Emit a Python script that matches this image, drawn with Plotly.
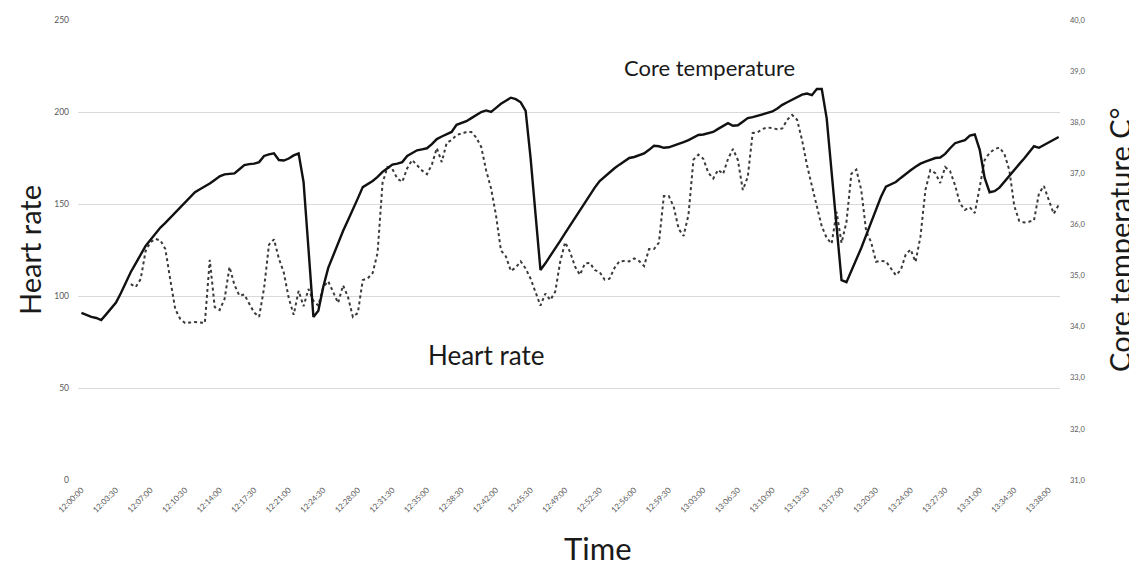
import pandas as pd
import plotly.graph_objects as go

# Time axis: readings every 30 s from 12:00:00
start_time = "2020-01-01 12:00:00"
n_points = 199
times = pd.date_range(start=start_time, periods=n_points, freq="30s")

# Core temperature (°C), solid line, right axis
core_temp = [
    34.27, 34.23, 34.19, 34.17, 34.13, 34.24, 34.35, 34.47, 34.66, 34.88,
    35.07, 35.24, 35.41, 35.58, 35.70, 35.83, 35.94, 36.03, 36.13, 36.23,
    36.33, 36.43, 36.53, 36.63, 36.69, 36.74, 36.80, 36.87, 36.94, 36.98,
    36.99, 37.00, 37.08, 37.16, 37.18, 37.19, 37.22, 37.34, 37.37, 37.39,
    37.26, 37.25, 37.29, 37.35, 37.39, 36.83, 35.52, 34.19, 34.31, 34.78,
    35.15, 35.39, 35.64, 35.87, 36.08, 36.28, 36.51, 36.73, 36.79, 36.85,
    36.93, 37.03, 37.10, 37.17, 37.19, 37.22, 37.34, 37.40, 37.45, 37.47,
    37.49, 37.57, 37.67, 37.72, 37.77, 37.81, 37.95, 37.99, 38.02, 38.08,
    38.14, 38.20, 38.23, 38.20, 38.28, 38.36, 38.42, 38.48, 38.45, 38.39,
    38.22, 37.30, 36.20, 35.11, 35.24, 35.38, 35.53, 35.68, 35.83, 35.98,
    36.13, 36.28, 36.43, 36.58, 36.72, 36.85, 36.94, 37.03, 37.10, 37.17,
    37.23, 37.30, 37.32, 37.35, 37.39, 37.46, 37.54, 37.53, 37.50, 37.51,
    37.54, 37.57, 37.61, 37.65, 37.70, 37.75, 37.76, 37.78, 37.81, 37.87,
    37.93, 37.98, 37.93, 37.94, 38.01, 38.08, 38.10, 38.13, 38.15, 38.18,
    38.21, 38.27, 38.34, 38.39, 38.44, 38.49, 38.54, 38.56, 38.53, 38.65,
    38.65, 38.07, 37.03, 35.97, 34.91, 34.87, 35.09, 35.31, 35.54, 35.79,
    36.05, 36.30, 36.54, 36.74, 36.78, 36.83, 36.91, 36.99, 37.06, 37.13,
    37.19, 37.23, 37.26, 37.30, 37.31, 37.38, 37.49, 37.59, 37.62, 37.65,
    37.74, 37.76, 37.46, 36.91, 36.63, 36.65, 36.72, 36.84, 36.96, 37.07,
    37.18, 37.29, 37.41, 37.53, 37.50, 37.55, 37.60, 37.66, 37.71,
]

# Heart rate (bpm), dotted line, left axis (no readings for the first 5 min)
heart_rate = [
    None, None, None, None, None, None, None, None, None, None,
    106.5, 104.9, 109.2, 124.5, 129.3, 131.0, 130.2, 125.5, 108.9, 92.9,
    87.6, 85.3, 85.6, 85.9, 85.6, 85.3, 119.6, 94.0, 92.4, 98.4,
    115.8, 106.0, 100.2, 100.8, 95.8, 91.0, 88.7, 104.3, 127.9, 130.8,
    120.4, 112.7, 98.9, 89.8, 102.8, 94.4, 103.8, 97.4, 94.8, 104.9,
    108.0, 101.6, 96.2, 105.8, 99.5, 88.6, 90.8, 108.7, 109.6, 112.5,
    123.4, 161.4, 170.1, 169.0, 163.8, 162.0, 169.4, 173.9, 170.8, 168.2,
    166.2, 171.4, 180.4, 172.8, 183.2, 184.8, 187.5, 188.5, 189.1, 189.1,
    186.1, 181.0, 168.2, 158.4, 143.7, 124.7, 121.5, 113.6, 115.5, 118.8,
    114.9, 109.4, 101.8, 94.8, 101.3, 97.8, 102.4, 118.6, 129.2, 123.9,
    116.0, 111.5, 117.7, 118.0, 114.1, 113.0, 108.9, 109.4, 115.2, 118.9,
    119.0, 118.8, 120.4, 119.0, 116.3, 125.5, 125.5, 129.0, 154.3, 154.3,
    148.5, 136.5, 132.6, 144.3, 174.1, 176.8, 174.6, 167.0, 163.8, 168.6,
    166.3, 174.5, 179.9, 173.9, 157.6, 164.7, 188.6, 189.0, 190.8, 191.6,
    191.2, 190.6, 191.1, 195.8, 198.4, 195.8, 184.8, 171.2, 159.8, 148.9,
    137.8, 131.5, 128.4, 145.7, 128.8, 140.2, 166.5, 168.7, 157.6, 135.1,
    129.3, 118.6, 119.1, 118.8, 114.9, 111.3, 114.1, 122.5, 125.3, 118.5,
    132.4, 157.6, 168.4, 166.8, 161.4, 170.1, 167.8, 160.3, 150.3, 146.8,
    148.2, 145.1, 159.2, 173.9, 177.8, 179.8, 180.7, 177.2, 168.4, 149.0,
    140.8, 139.9, 140.4, 141.1, 155.7, 159.8, 152.1, 144.7, 149.5,
]

hr_ticks = [0, 50, 100, 150, 200, 250]
temp_ticks = [31, 32, 33, 34, 35, 36, 37, 38, 39, 40]
temp_tick_labels = ["31,0", "32,0", "33,0", "34,0", "35,0", "36,0", "37,0", "38,0", "39,0", "40,0"]

FONT = "Lato"
TICK_COLOR = "#595959"
TITLE_COLOR = "#1a1a1a"

fig = go.Figure()
fig.add_trace(go.Scatter(
    x=times, y=heart_rate, name="Heart rate", mode="lines",
    line=dict(color="#3a3a3a", width=2, dash="dot"), connectgaps=False,
    yaxis="y",
))
fig.add_trace(go.Scatter(
    x=times, y=core_temp, name="Core temperature", mode="lines",
    line=dict(color="#111111", width=2.4),
    yaxis="y2",
))

# In-plot series labels
fig.add_annotation(x=pd.Timestamp("2020-01-01 13:03:40"), y=224, xref="x", yref="y",
                   text="Core temperature", showarrow=False,
                   font=dict(family=FONT, size=22, color=TITLE_COLOR))
fig.add_annotation(x=pd.Timestamp("2020-01-01 12:41:05"), y=68, xref="x", yref="y",
                   text="Heart rate", showarrow=False,
                   font=dict(family=FONT, size=26, color=TITLE_COLOR))

# Axis titles (placed as in the reference, slightly off-centre)
fig.add_annotation(x=0.5295, y=0, xref="paper", yref="paper", yshift=-68,
                   xanchor="center", yanchor="middle", text="Time", showarrow=False,
                   font=dict(family=FONT, size=31, color=TITLE_COLOR))
fig.add_annotation(x=1.060, y=0.5217, xref="paper", yref="paper", textangle=-90,
                   xanchor="center", yanchor="middle", text="Core temperature C°", showarrow=False,
                   font=dict(family=FONT, size=29, color=TITLE_COLOR))

# The page body adds an 8 px offset, so the figure is 8 px smaller than the window
fig.update_layout(
    width=1129, height=559,
    margin=dict(l=70, r=77, t=12, b=87, autoexpand=False),
    paper_bgcolor="white", plot_bgcolor="white",
    showlegend=False,
    font=dict(family=FONT, color=TITLE_COLOR),
    xaxis=dict(
        range=[pd.Timestamp("2020-01-01 11:59:39"), pd.Timestamp("2020-01-01 13:39:08")],
        tick0=pd.Timestamp(start_time), dtick=210000, tickformat="%H:%M:%S",
        tickangle=-45, tickfont=dict(family=FONT, size=8, color=TICK_COLOR),
        showgrid=False, zeroline=False, ticklabelstandoff=3,
        showline=False, ticks="", automargin=False,
    ),
    yaxis=dict(
        range=[0, 250], tickvals=hr_ticks, tickfont=dict(family=FONT, size=8.5, color=TICK_COLOR),
        showgrid=True, gridcolor="#d9d9d9", gridwidth=1.3, zeroline=False,
        showline=False, ticks="", ticklabelstandoff=8, automargin=False,
        title=dict(text="Heart rate", font=dict(family=FONT, size=29, color=TITLE_COLOR), standoff=4),
    ),
    yaxis2=dict(
        range=[31, 40], tickvals=temp_ticks, ticktext=temp_tick_labels,
        tickfont=dict(family=FONT, size=7.5, color=TICK_COLOR),
        overlaying="y", side="right", automargin=False,
        showgrid=False, zeroline=False, showline=False, ticks="", ticklabelstandoff=9,
    ),
)

fig.write_html("out.html")
